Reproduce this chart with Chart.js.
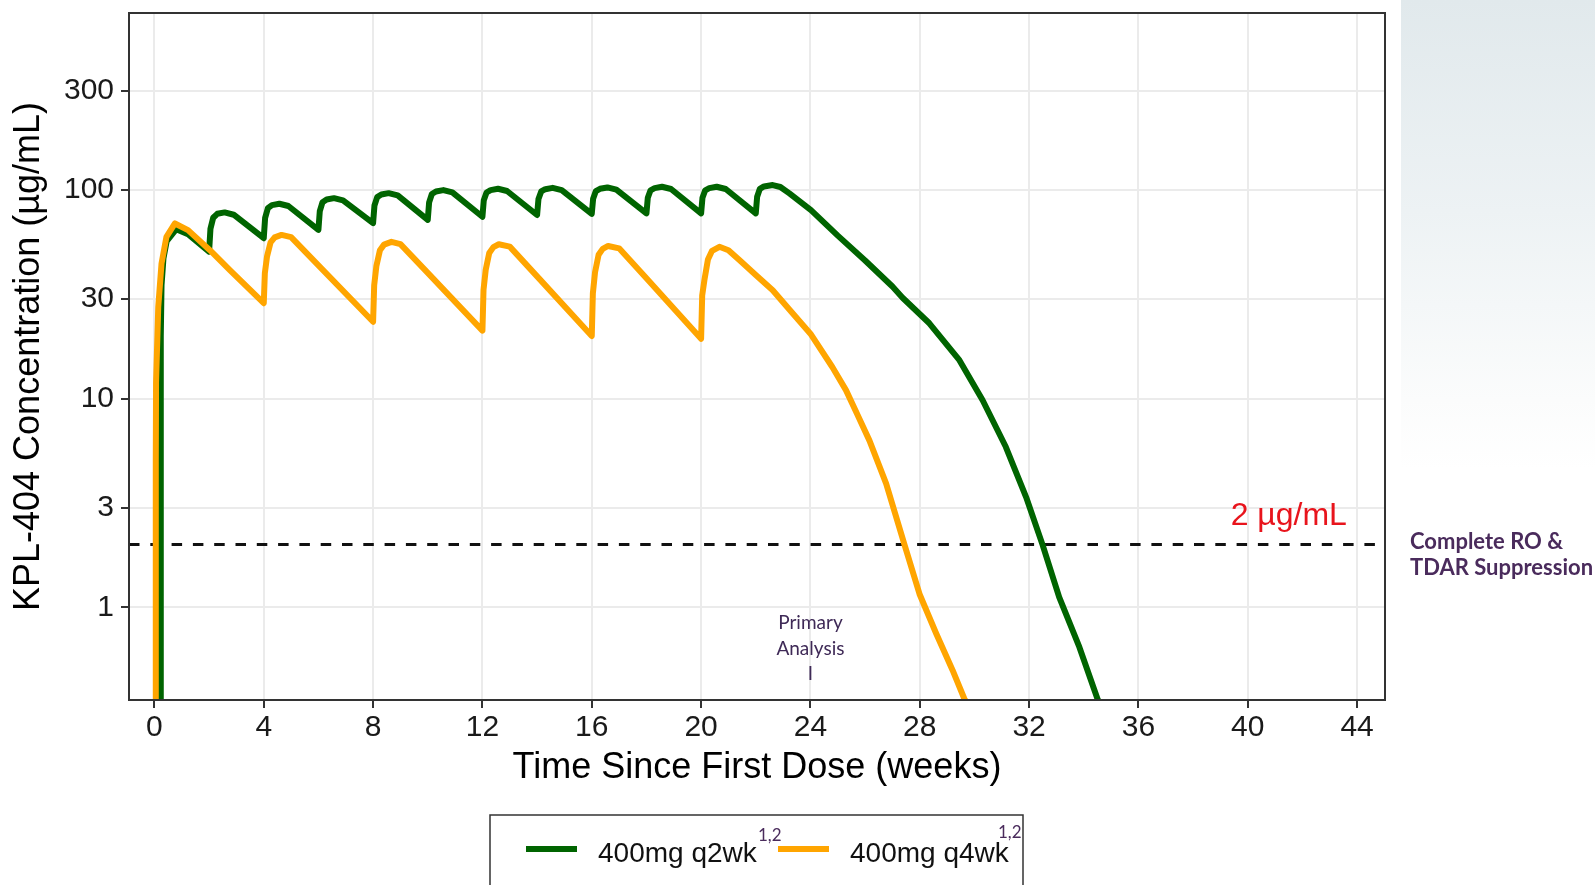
<!DOCTYPE html>
<html>
<head>
<meta charset="utf-8">
<script src="https://cdn.jsdelivr.net/npm/chart.js@4.4.1/dist/chart.umd.min.js"></script>
<style>
  html, body { margin: 0; padding: 0; background: #fff; }
  #wrap { position: relative; width: 1595px; height: 885px; overflow: hidden; }
  #panel { position: absolute; left: 1401px; top: 0; width: 194px; height: 470px;
    background: linear-gradient(to bottom, #e1e9ec 0%, #edf2f4 45%, #fbfcfc 85%, #ffffff 100%); }
  #pkChart { position: absolute; left: 0; top: 0; }
</style>
</head>
<body>
<div id="wrap">
  <div id="panel"></div>
  <canvas id="pkChart" width="1595" height="885"></canvas>
</div>
<script>
// weeks since first dose / concentration in ug/mL
const weeksQ4 = [
  0.04, 0.05, 0.06, 0.14, 0.26, 0.44, 0.75, 1.23, 2.03, 2.76, 4.0,
  4.04, 4.12, 4.25, 4.4, 4.65, 5.0, 6.0, 8.0,
  8.04, 8.12, 8.25, 8.4, 8.67, 9.0, 10.0, 12.0,
  12.04, 12.12, 12.25, 12.4, 12.6, 13.0, 14.0, 16.0,
  16.04, 16.12, 16.25, 16.4, 16.6, 17.0, 18.0, 20.0,
  20.04, 20.12, 20.25, 20.4, 20.67, 21.0, 21.4, 22.0, 22.62, 23.3, 24.0, 24.8,
  25.3, 25.7, 26.16, 26.77, 27.44, 27.99, 28.6, 29.2, 29.63, 30.0
];
const concQ4 = [
  0.1, 5, 12, 27.5, 44.5, 59.7, 69.2, 64.3, 51.5, 41.3, 28.7,
  40, 48.1, 56.2, 59.4, 61, 59.5, 43.6, 23.4,
  35, 43.2, 51.5, 54.8, 56.5, 55.1, 40.1, 21.2,
  33.3, 41.5, 50, 53.3, 55, 53.6, 38.6, 20,
  32, 40.4, 49, 52.3, 54, 52.6, 37.8, 19.4,
  31.3, 37, 46.5, 51.2, 53.5, 51.5, 46.2, 39.2, 33.1, 26.1, 20.5, 14.2,
  11, 8.5, 6.3, 3.92, 2.0, 1.16, 0.75, 0.5, 0.365, 0.3
];

const weeksQ2 = [
  0.22, 0.23, 0.235, 0.26, 0.33, 0.45, 0.8, 1.23, 2.0,
  2.05, 2.15, 2.3, 2.57, 2.9, 4.0,
  4.05, 4.15, 4.3, 4.57, 4.9, 6.0,
  6.05, 6.15, 6.3, 6.57, 6.9, 8.0,
  8.05, 8.15, 8.3, 8.57, 8.9, 10.0,
  10.05, 10.15, 10.3, 10.57, 10.9, 12.0,
  12.05, 12.15, 12.3, 12.57, 12.9, 14.0,
  14.05, 14.15, 14.3, 14.57, 14.9, 16.0,
  16.05, 16.15, 16.3, 16.57, 16.9, 18.0,
  18.05, 18.15, 18.3, 18.57, 18.9, 20.0,
  20.05, 20.15, 20.3, 20.57, 20.9, 22.0,
  22.05, 22.15, 22.3, 22.62, 22.9, 23.23, 24.02, 25.0, 26.0, 27.0, 27.37,
  28.35, 29.45, 30.3, 31.15, 31.89, 32.49, 33.1, 33.84, 34.5, 34.8
];
const concQ2 = [
  0.1, 5, 20, 35, 47, 57, 65, 61.5, 50.7,
  65.3, 73.7, 77, 78.2, 76.2, 58.8,
  73.6, 81.9, 84.7, 86, 83.9, 64.5,
  79.3, 87.5, 90.1, 91.5, 89.2, 69.5,
  84.4, 92.6, 95.2, 96.7, 94.3, 72,
  87.4, 95.8, 98.5, 100, 97.5, 74.5,
  89.4, 97.4, 100, 101.5, 99, 76,
  90.6, 98.5, 101, 102.5, 100, 77,
  91, 99, 101.5, 103, 100.5, 77.3,
  91.9, 99.8, 102.2, 103.8, 101.2, 77.3,
  91.9, 99.8, 102.2, 103.8, 101.2, 77.3,
  93, 101.4, 104.1, 105.7, 103.5, 96.4, 80.2, 60.5, 46, 34.5, 30.5,
  23, 15.3, 9.84, 5.87, 3.38, 2.0, 1.12, 0.645, 0.365, 0.3
];

const xTicks = [0, 4, 8, 12, 16, 20, 24, 28, 32, 36, 40, 44];
const yTicks = [1, 3, 10, 30, 100, 300];
const xMin = -0.93, xMax = 45.02;
const yMin = 0.36, yMax = 706;

const threshold = 2;
const thresholdLabel = '2 \u00b5g/mL';
const thresholdLabelAt = [41.5, 2.75];
const primaryWeek = 24;
const primaryLines = ['Primary', 'Analysis', 'I'];
const sideNote = ['Complete RO &', 'TDAR Suppression'];
const legendNames = ['400mg q2wk', '400mg q4wk'];
const legendSup = '1,2';

const GREEN = '#006400';
const ORANGE = '#FFA500';
const PURPLE = '#4a2b5c';
const ARIAL = '"Liberation Sans", Arial, sans-serif';
const CALIBRI = 'Lato, "Open Sans", sans-serif';

function toPoints(xs, ys) {
  return xs.map((x, i) => ({ x: x, y: ys[i] }));
}

// keep the tick labels from pushing the plot panel inwards
function noEdgePadding(scale) {
  scale.paddingTop = 0;
  scale.paddingBottom = 0;
  scale.paddingLeft = 0;
  scale.paddingRight = 0;
}

const decorations = {
  id: 'decorations',
  afterDraw(chart) {
    const { ctx, chartArea: a, scales: { x, y } } = chart;
    ctx.save();

    // panel border
    ctx.strokeStyle = '#333';
    ctx.lineWidth = 2;
    ctx.strokeRect(a.left, a.top, a.width, a.height);

    // threshold label
    ctx.fillStyle = '#e8141c';
    ctx.font = '32px ' + ARIAL;
    ctx.textAlign = 'center';
    ctx.textBaseline = 'middle';
    ctx.fillText(thresholdLabel, x.getPixelForValue(thresholdLabelAt[0]), y.getPixelForValue(thresholdLabelAt[1]));

    // primary analysis marker
    ctx.fillStyle = '#3f2a57';
    ctx.font = '19px ' + CALIBRI;
    ctx.textBaseline = 'alphabetic';
    const px = x.getPixelForValue(primaryWeek);
    primaryLines.forEach((t, i) => ctx.fillText(t, px, a.bottom - 71 + i * 25.5));

    // side note right of the panel
    const ty = y.getPixelForValue(threshold);
    ctx.fillStyle = PURPLE;
    ctx.font = 'bold 22px ' + CALIBRI;
    ctx.textAlign = 'left';
    sideNote.forEach((t, i) => ctx.fillText(t, a.right + 25, ty + 4 + i * 26));

    // legend box
    ctx.strokeStyle = '#333';
    ctx.lineWidth = 1.5;
    ctx.strokeRect(490, 815, 533, 90);
    const items = [
      { ds: chart.data.datasets[1], lineX: 526, textX: 598, supX: 758, supY: 841 },
      { ds: chart.data.datasets[0], lineX: 778, textX: 850, supX: 998, supY: 838 }
    ];
    items.forEach((it, i) => {
      ctx.strokeStyle = it.ds.borderColor;
      ctx.lineWidth = 6;
      ctx.beginPath();
      ctx.moveTo(it.lineX, 849);
      ctx.lineTo(it.lineX + 51, 849);
      ctx.stroke();
      ctx.fillStyle = '#111';
      ctx.font = '28px ' + ARIAL;
      ctx.fillText(legendNames[i], it.textX, 862);
      ctx.fillStyle = PURPLE;
      ctx.font = '17px ' + CALIBRI;
      ctx.fillText(legendSup, it.supX, it.supY);
    });

    ctx.restore();
  }
};

new Chart(document.getElementById('pkChart'), {
  type: 'line',
  data: {
    datasets: [
      {
        label: legendNames[1],
        data: toPoints(weeksQ4, concQ4),
        borderColor: ORANGE,
        borderWidth: 6,
        pointRadius: 0,
        borderJoinStyle: 'round',
        borderCapStyle: 'round',
        clip: 0
      },
      {
        label: legendNames[0],
        data: toPoints(weeksQ2, concQ2),
        borderColor: GREEN,
        borderWidth: 6,
        pointRadius: 0,
        borderJoinStyle: 'round',
        borderCapStyle: 'round',
        clip: 0
      },
      {
        label: 'threshold',
        data: [{ x: xMin, y: threshold }, { x: xMax, y: threshold }],
        borderColor: '#111',
        borderWidth: 3,
        borderDash: [10.5, 10.8],
        pointRadius: 0,
        clip: 0
      }
    ]
  },
  options: {
    responsive: false,
    animation: false,
    events: [],
    layout: { padding: { top: 13, right: 210, bottom: 85, left: 0 } },
    plugins: {
      legend: { display: false },
      tooltip: { enabled: false }
    },
    scales: {
      x: {
        type: 'linear',
        min: xMin,
        max: xMax,
        afterBuildTicks: (scale) => { scale.ticks = xTicks.map(v => ({ value: v })); },
        afterFit: (scale) => { scale.height = 100; noEdgePadding(scale); },
        ticks: { font: { family: ARIAL, size: 30 }, color: '#1a1a1a', padding: 2, maxRotation: 0 },
        grid: { color: '#ebebeb', lineWidth: 2, tickColor: '#333', tickWidth: 2, tickLength: 8 },
        border: { display: false },
        title: {
          display: true,
          text: 'Time Since First Dose (weeks)',
          font: { family: ARIAL, size: 36 },
          color: '#000',
          padding: { top: 0, bottom: 10 }
        }
      },
      y: {
        type: 'logarithmic',
        min: yMin,
        max: yMax,
        afterBuildTicks: (scale) => { scale.ticks = yTicks.map(v => ({ value: v })); },
        afterFit: (scale) => { scale.width = 129; noEdgePadding(scale); },
        ticks: {
          font: { family: ARIAL, size: 30 },
          color: '#1a1a1a',
          padding: 7,
          callback: (v) => String(v)
        },
        grid: { color: '#ebebeb', lineWidth: 2, tickColor: '#333', tickWidth: 2, tickLength: 8 },
        border: { display: false },
        title: {
          display: true,
          text: 'KPL-404 Concentration (\u00b5g/mL)',
          font: { family: ARIAL, size: 36 },
          color: '#000',
          padding: { top: 7, bottom: 0 }
        }
      }
    }
  },
  plugins: [decorations]
});
</script>
</body>
</html>
